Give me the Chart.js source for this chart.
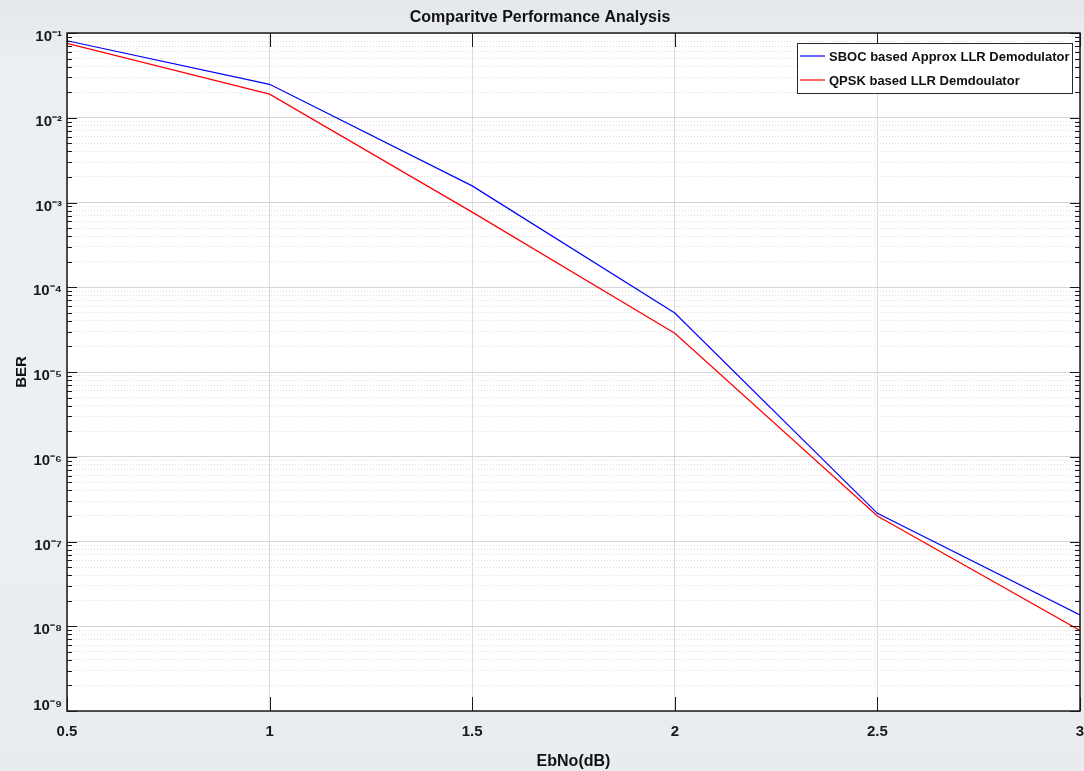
<!DOCTYPE html>
<html><head><meta charset="utf-8">
<script src="https://cdn.jsdelivr.net/npm/chart.js@4.4.0/dist/chart.umd.min.js"></script>
<style>
html,body{margin:0;padding:0;}
#wrap{width:1084px;height:771px;position:relative;background:linear-gradient(180deg,#e4e8ec 0%,#ebeef2 8%,#edf0f3 60%,#e9ecef 100%);}
canvas{display:block;}
</style>
</head><body><div id="wrap"><canvas id="c" width="1084" height="771"></canvas></div>
<script>
const ebno = [0.5, 1, 1.5, 2, 2.5, 3];
const berSBOC = [0.081, 0.0248, 0.00157, 4.97e-5, 2.15e-7, 1.36e-8];
const berQPSK = [0.0755, 0.019, 7.7e-4, 2.86e-5, 2.0e-7, 8.9e-9];
const xTickValues = [0.5, 1, 1.5, 2, 2.5, 3];
const yExponents = [-9, -8, -7, -6, -5, -4, -3, -2, -1];
const seriesNames = ['SBOC based Approx LLR Demodulator', 'QPSK based LLR Demdoulator'];
const titleText = 'Comparitve Performance Analysis';

const FONT = "'Liberation Sans',Arial,sans-serif";
const SUP = {'-':'\u207B','0':'\u2070','1':'\u00B9','2':'\u00B2','3':'\u00B3','4':'\u2074','5':'\u2075','6':'\u2076','7':'\u2077','8':'\u2078','9':'\u2079'};
function supStr(n){return String(n).split('').map(c=>SUP[c]).join('');}

const yTickValues = [];
yExponents.forEach((e,i)=>{
  if (i < yExponents.length-1) { for (let m=1;m<=9;m++) yTickValues.push(m*Math.pow(10,e)); }
  else yTickValues.push(Math.pow(10,e));
});
function isMajor(v){const l=Math.log10(v);return Math.abs(l-Math.round(l))<1e-6;}

const frame = {
  id:'frame',
  afterDraw(chart){
    const ctx=chart.ctx, a=chart.chartArea;
    const ys=chart.scales.y, xs=chart.scales.x;
    ctx.save();
    ctx.strokeStyle='#1a1a1a'; ctx.lineWidth=1;
    ctx.beginPath();
    yTickValues.forEach(v=>{
      const py=Math.round(ys.getPixelForValue(v))+0.5;
      const len=isMajor(v)?10:5;
      ctx.moveTo(a.left,py); ctx.lineTo(a.left+len,py);
      ctx.moveTo(a.right,py); ctx.lineTo(a.right-len,py);
    });
    xTickValues.forEach(v=>{
      const px=Math.round(xs.getPixelForValue(v))+0.5;
      ctx.moveTo(px,a.bottom); ctx.lineTo(px,a.bottom-14);
      ctx.moveTo(px,a.top); ctx.lineTo(px,a.top+14);
    });
    ctx.stroke();
    ctx.lineWidth=1.5;
    ctx.strokeRect(a.left,a.top,a.right-a.left,a.bottom-a.top);
    // legend
    const lx=a.right-283, ly=a.top+10, lw=275, lh=50;
    ctx.fillStyle='#ffffff'; ctx.fillRect(lx,ly,lw,lh);
    ctx.lineWidth=1; ctx.strokeStyle='#2a2a2a';
    ctx.strokeRect(lx+0.5,ly+0.5,lw,lh);
    chart.data.datasets.forEach((ds,i)=>{
      const cy=ly+13+i*24;
      ctx.strokeStyle=ds.borderColor; ctx.lineWidth=1.2;
      ctx.beginPath(); ctx.moveTo(lx+3,cy); ctx.lineTo(lx+28,cy); ctx.stroke();
      ctx.fillStyle='#111'; ctx.font="bold 13px "+FONT; ctx.textBaseline='middle'; ctx.textAlign='left';
      ctx.fillText(ds.label,lx+32,cy+1);
    });
    ctx.restore();
  }
};
const bgArea = {
  id:'bgArea',
  beforeDraw(chart){
    const a=chart.chartArea, ctx=chart.ctx;
    ctx.save(); ctx.fillStyle='#ffffff'; ctx.fillRect(a.left,a.top,a.right-a.left,a.bottom-a.top); ctx.restore();
  }
};

new Chart(document.getElementById('c'), {
  type:'line',
  data:{
    datasets:[
      {label:seriesNames[0], data:ebno.map((x,i)=>({x, y:berSBOC[i]})), borderColor:'#0000ff', borderWidth:1.2, pointRadius:0, tension:0, fill:false},
      {label:seriesNames[1], data:ebno.map((x,i)=>({x, y:berQPSK[i]})), borderColor:'#ff0000', borderWidth:1.2, pointRadius:0, tension:0, fill:false}
    ]
  },
  options:{
    responsive:false, animation:false, devicePixelRatio:1,
    layout:{padding:{left:0,right:4,top:0,bottom:0}},
    plugins:{
      legend:{display:false}, tooltip:{enabled:false},
      title:{display:true, text:titleText, color:'#111', font:{family:FONT, size:16, weight:'bold', lineHeight:1.2}, padding:{top:8,bottom:5.8}}
    },
    scales:{
      x:{
        type:'linear', min:0.5, max:3,
        afterBuildTicks(s){ s.ticks = xTickValues.map(v=>({value:v})); },
        afterFit(s){ s.height=60; s.paddingLeft=0; s.paddingRight=0; },
        ticks:{ autoSkip:false, maxRotation:0, padding:12, color:'#1a1a1a', font:{family:FONT,size:15,weight:'bold'}, callback:(v)=>String(v) },
        grid:{ color:'#dcdcdc', lineWidth:1, drawTicks:false },
        border:{ display:false },
        title:{ display:true, text:'EbNo(dB)', color:'#111', font:{family:FONT,size:16,weight:'bold',lineHeight:1.2}, padding:{top:4,bottom:0} }
      },
      y:{
        type:'logarithmic', min:1e-9, max:1e-1,
        afterBuildTicks(s){ s.ticks = yTickValues.map(v=>({value:v, major:isMajor(v)})); },
        afterFit(s){ s.width=67; s.paddingTop=0; s.paddingBottom=0; },
        ticks:{ autoSkip:false, padding:5, labelOffset:4, color:'#1a1a1a', font:{family:FONT,size:15,weight:'bold',lineHeight:1.2},
          callback:(v)=> {
            if (!isMajor(v)) return '';
            const e=Math.round(Math.log10(v));
            const s='10'+supStr(e);
            return e===yExponents[0] ? [s,''] : s;
          } },
        grid:{ drawTicks:false,
          color:(c)=> (c.tick && isMajor(c.tick.value)) ? '#d6d6d6' : '#dddddd',
          lineWidth:1 },
        border:{ display:false, dash:(c)=> (c.tick && isMajor(c.tick.value)) ? [] : [1,2] },
        title:{ display:true, text:'BER', color:'#111', font:{family:FONT,size:15,weight:'bold',lineHeight:1.2}, padding:{top:13,bottom:0} }
      }
    }
  },
  plugins:[bgArea, frame]
});
</script>
</body></html>
